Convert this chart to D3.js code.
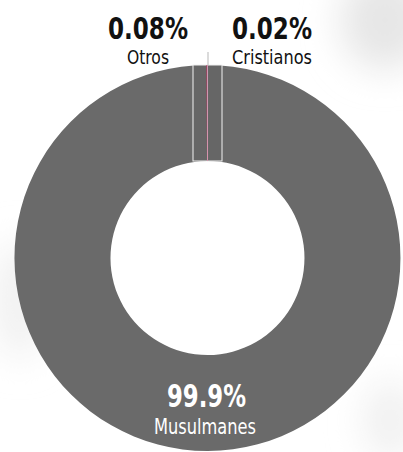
<!DOCTYPE html>
<html>
<head>
<meta charset="utf-8">
<script src="https://cdn.jsdelivr.net/npm/d3@7"></script>
<style>
html,body{margin:0;padding:0;background:#fff;}
svg{display:block;}
text{font-family:"DejaVu Sans Condensed","Roboto",sans-serif;}
</style>
</head>
<body>
<svg id="chart" width="403" height="452"></svg>
<script>
const categories = ["Musulmanes", "Otros", "Cristianos"];
const values = [99.9, 0.08, 0.02];
const valueLabels = ["99.9%", "0.08%", "0.02%"];
const colors = ["#6a6a6a", "#c8285a", "#9cc0dc"];

const W = 403, H = 452;
const cx = 207.5, cy = 258, rOuter = 193, rInner = 97;
const svg = d3.select("#chart");

// faint background smudges
const defs = svg.append("defs");
defs.append("filter").attr("id", "blur").append("feGaussianBlur").attr("stdDeviation", 18);
const bg = svg.append("g").attr("filter", "url(#blur)");
bg.append("ellipse").attr("cx", 385).attr("cy", 20).attr("rx", 45).attr("ry", 50).attr("fill", "#e6e6e6");
bg.append("ellipse").attr("cx", 20).attr("cy", 300).attr("rx", 25).attr("ry", 60).attr("fill", "#f0f0f0");
bg.append("ellipse").attr("cx", 390).attr("cy", 420).attr("rx", 25).attr("ry", 40).attr("fill", "#efefef");

const data = categories.map((c, i) => ({cat: c, value: values[i], label: valueLabels[i], color: colors[i]}));
const total = d3.sum(values);
const start = -2 * Math.PI * (values[0] + values[1]) / total;

const pie = d3.pie().sort(null).value(d => d.value)
  .startAngle(start).endAngle(start + 2 * Math.PI);
const arcs = pie(data);
const arc = d3.arc().innerRadius(rInner).outerRadius(rOuter);

const g = svg.append("g").attr("transform", `translate(${cx},${cy})`);

// main slice
g.append("path").datum(arcs[0]).attr("d", arc).attr("fill", colors[0]);

// magnified callout bars for the tiny slices
const small = data.slice(1);
const xBand = d3.scaleBand().domain(small.map(d => d.cat)).range([-14.5, 14.5]).padding(0);
g.selectAll("rect.mag").data(small).join("rect")
  .attr("class", "mag")
  .attr("x", d => xBand(d.cat))
  .attr("y", -rOuter)
  .attr("width", xBand.bandwidth())
  .attr("height", rOuter - rInner)
  .attr("fill", "#666")
  .attr("stroke", "#f2f2f2")
  .attr("stroke-width", 1);

// tiny real slices
g.selectAll("path.small").data(arcs.slice(1)).join("path")
  .attr("class", "small")
  .attr("d", arc)
  .attr("fill", d => d.data.color);

// leader tick
g.append("line").attr("x1", 0.5).attr("x2", 0.5).attr("y1", -rOuter - 13).attr("y2", -rOuter)
  .attr("stroke", "#cfcfcf").attr("stroke-width", 1.5);

// top labels
const topPos = {"Otros": -59.5, "Cristianos": 64.5};
const topLabels = g.selectAll("g.tl").data(small).join("g").attr("class", "tl")
  .attr("transform", d => `translate(${topPos[d.cat]},0)`);
topLabels.append("text")
  .attr("y", -rOuter - 26)
  .attr("text-anchor", "middle")
  .attr("font-size", 31)
  .style("font-weight", "bold")
  .attr("fill", "#111")
  .attr("textLength", 80).attr("lengthAdjust", "spacingAndGlyphs")
  .text(d => d.label);
topLabels.append("text")
  .attr("y", -rOuter - 1)
  .attr("text-anchor", "middle")
  .attr("font-size", 20)
  .style("font-weight", "normal")
  .attr("fill", "#111")
  .attr("textLength", d => d.cat === "Otros" ? 42 : 80).attr("lengthAdjust", "spacingAndGlyphs")
  .text(d => d.cat);

// bottom label for main slice
const c = arc.centroid(arcs[0]);
g.append("text")
  .attr("x", -1).attr("y", c[1] + 4)
  .attr("text-anchor", "middle")
  .attr("font-size", 32)
  .style("font-weight", "bold")
  .attr("fill", "#fff")
  .attr("textLength", 79).attr("lengthAdjust", "spacingAndGlyphs")
  .text(data[0].label);
g.append("text")
  .attr("x", -2.5).attr("y", c[1] + 31)
  .attr("text-anchor", "middle")
  .attr("font-size", 22)
  .style("font-weight", "normal")
  .attr("fill", "#fff")
  .attr("textLength", 102).attr("lengthAdjust", "spacingAndGlyphs")
  .text(data[0].cat);
</script>
</body>
</html>
